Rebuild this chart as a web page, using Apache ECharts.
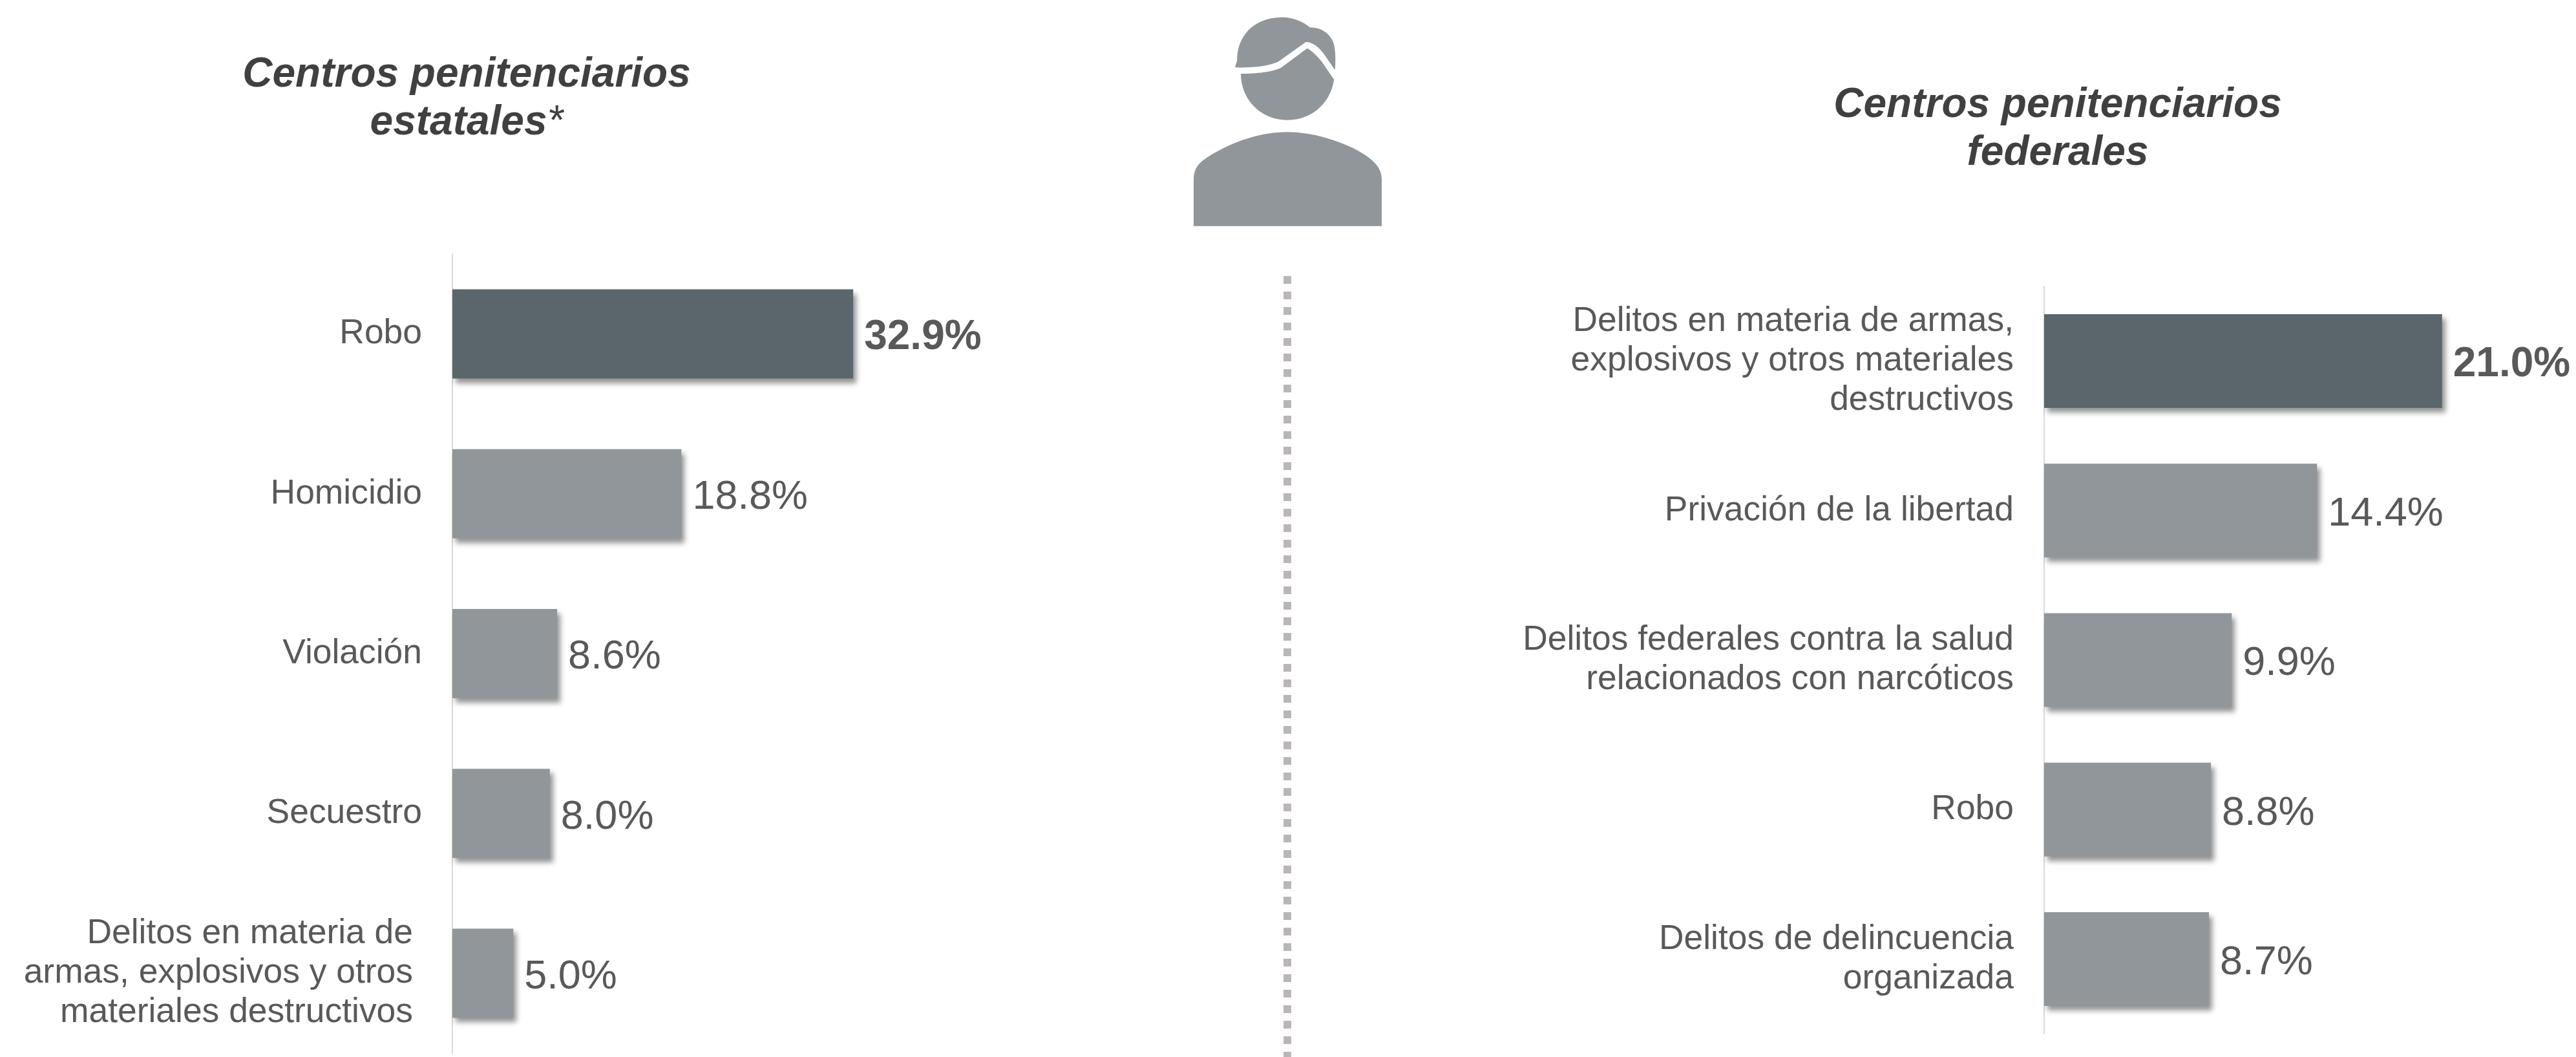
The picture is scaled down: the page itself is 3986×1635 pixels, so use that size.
<!DOCTYPE html>
<html>
<head>
<meta charset="utf-8">
<style>html,body{margin:0;padding:0;background:#fff}#chart{width:3986px;height:1635px}</style>
<script src="https://cdn.jsdelivr.net/npm/echarts@6/dist/echarts.min.js"></script>
</head>
<body>
<div id="chart"></div>
<script>
var estatalesCats = ['Robo', 'Homicidio', 'Violación', 'Secuestro', 'Delitos en materia de\narmas, explosivos y otros\nmateriales destructivos'];
var estatalesVals = [32.9, 18.8, 8.6, 8.0, 5.0];
var federalesCats = ['Delitos en materia de armas,\nexplosivos y otros materiales\ndestructivos', 'Privación de la libertad', 'Delitos federales contra la salud\nrelacionados con narcóticos', 'Robo', 'Delitos de delincuencia\norganizada'];
var federalesVals = [21.0, 14.4, 9.9, 8.8, 8.7];

var myChart = echarts.init(document.getElementById('chart'));
var fontName = '"Liberation Sans", Arial, sans-serif';
var dark = '#5b666c', light = '#91969a', textCol = '#595959', titleCol = '#404040';

// person icon
echarts.graphic.registerShape('personHair', echarts.graphic.extendPath('M333,313 L343,280 C340,180 410,80 553,80 C600,80 650,100 682,128 C740,125 790,170 795,220 C800,250 800,290 797,325 L745,250 C720,215 690,195 662,195 L545,278 C510,305 420,315 333,313 Z'));
echarts.graphic.registerShape('personFace', echarts.graphic.extendPath('M360,342 C430,342 510,335 550,312 L668,224 C690,235 715,260 735,285 L793,370 C775,480 690,557 577,557 C450,557 360,460 360,342 Z'));
echarts.graphic.registerShape('personBody', echarts.graphic.extendPath('M141,1049 L141,830 C141,790 160,760 190,740 C300,665 440,613 577,613 C710,613 880,670 965,740 C995,765 1014,795 1014,830 L1014,1049 Z'));

function barData(vals) {
  return vals.map(function (v, i) {
    return {
      value: v,
      itemStyle: { color: i === 0 ? dark : light },
      label: { fontWeight: i === 0 ? 'bold' : 'normal', fontSize: i === 0 ? 64 : 63 }
    };
  });
}
function yAxis(idx, cats) {
  return {
    type: 'category', gridIndex: idx, inverse: true, data: cats,
    axisLine: { lineStyle: { color: '#d9d9d9', width: 2 } },
    axisTick: { show: false },
    axisLabel: { margin: 47, fontFamily: fontName, fontSize: 53.4, lineHeight: 61, color: textCol, align: 'right', padding: [10, 0, 0, 0] }
  };
}
function xAxis(idx, max) {
  return { type: 'value', gridIndex: idx, min: 0, max: max, show: false };
}
function series(idx, vals, w) {
  return {
    type: 'bar', xAxisIndex: idx, yAxisIndex: idx, barWidth: w,
    data: barData(vals),
    itemStyle: { shadowColor: 'rgba(0,0,0,0.42)', shadowBlur: 8, shadowOffsetX: 5, shadowOffsetY: 7 },
    label: {
      show: true, position: 'right', distance: 17, offset: [0, 6], fontFamily: fontName, color: textCol,
      formatter: function (p) { return p.value.toFixed(1) + '%'; }
    }
  };
}
function titleText(x, y, text) {
  return {
    type: 'text', x: x, y: y,
    style: {
      text: text, align: 'center', verticalAlign: 'middle',
      rich: {
        b: { fill: titleCol, font: 'italic bold 64px ' + fontName, lineHeight: 74 },
        a: { fill: titleCol, font: 'italic 64px ' + fontName, lineHeight: 74 }
      }
    }
  };
}

var cats0 = estatalesCats.map(function (c, i) {
  return i === 4 ? { value: c, textStyle: { padding: [10, 14, 0, 0] } } : c;
});

var option = {
  animation: false,
  backgroundColor: '#fff',
  grid: [
    { left: 700, top: 393, width: 1131, height: 1236 },
    { left: 3163, top: 443, width: 733, height: 1156 }
  ],
  xAxis: [xAxis(0, 60), xAxis(1, 25)],
  yAxis: [yAxis(0, cats0), yAxis(1, federalesCats)],
  series: [series(0, estatalesVals, 138), series(1, federalesVals, 145)],
  graphic: [
    titleText(722, 153, '{b|Centros penitenciarios}\n{b|estatales}{a|*}'),
    titleText(3184, 200, '{b|Centros penitenciarios}\n{b|federales}'),
    { type: 'line', shape: { x1: 1992, y1: 427, x2: 1992, y2: 1635 }, style: { stroke: '#bbb6b6', lineWidth: 12, lineDash: [12, 12] } },
    { type: 'group', x: 1800, y: 0, scaleX: 1 / 3, scaleY: 1 / 3, children: [
      { type: 'personHair', style: { fill: light } },
      { type: 'personFace', style: { fill: light } },
      { type: 'personBody', style: { fill: light } }
    ] }
  ]
};
myChart.setOption(option);
</script>
</body>
</html>
